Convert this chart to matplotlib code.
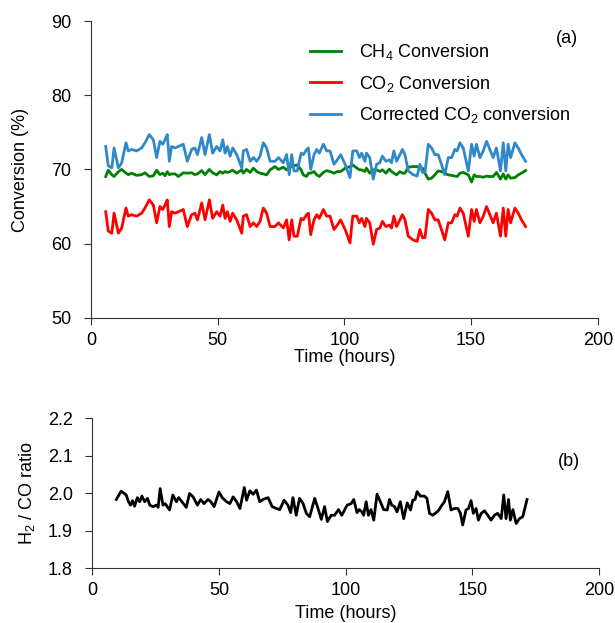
import matplotlib
matplotlib.use('Agg')
import matplotlib.pyplot as plt
from matplotlib.ticker import FormatStrFormatter

plt.rcParams['font.family'] = ['Liberation Sans', 'DejaVu Sans']
plt.rcParams['mathtext.fontset'] = 'custom'
plt.rcParams['mathtext.rm'] = 'Liberation Sans'
plt.rcParams['mathtext.it'] = 'Liberation Sans:italic'

# panel (a): conversions vs time
time_a = [5.8, 6.8, 8.2, 9.1, 10.8, 12.1, 13.8, 14.7, 16.0, 18.0,
          20.0, 21.3, 23.0, 24.6, 25.9, 27.2, 28.3, 29.2, 30.1, 30.9,
          31.8, 33.2, 34.5, 36.4, 38.0, 39.7, 41.0, 42.0, 43.7, 45.0,
          46.7, 48.0, 49.6, 50.9, 52.0, 52.9, 53.8, 54.9, 55.9, 57.5,
          59.5, 60.1, 61.4, 62.8, 64.1, 65.4, 66.7, 68.0, 69.3, 70.7,
          72.6, 74.0, 75.9, 77.2, 78.2, 79.2, 80.1, 81.4, 82.9, 83.8,
          85.1, 85.8, 86.7, 88.0, 89.1, 90.1, 91.7, 93.0, 94.3, 95.9,
          97.2, 98.5, 100.3, 102.2, 103.3, 104.9, 105.9, 106.8, 108.1, 108.7,
          110.0, 111.4, 112.7, 114.0, 115.0, 116.4, 117.7, 118.6, 119.5, 120.6,
          121.9, 122.9, 123.9, 125.2, 127.1, 128.7, 129.8, 130.8, 131.8, 133.1,
          134.4, 135.7, 137.0, 138.3, 139.6, 141.0, 142.3, 143.6, 144.5, 145.6,
          146.9, 148.9, 150.2, 151.2, 152.1, 153.5, 154.8, 156.1, 157.4, 158.7,
          160.0, 161.6, 162.7, 163.7, 164.6, 165.6, 167.3, 168.6, 169.9, 171.5]

ch4_conv = [69.05, 69.9, 69.3, 69.05, 69.7, 70.0, 69.5, 69.3, 69.5, 69.2,
            69.3, 69.55, 69.05, 69.15, 69.9, 69.3, 69.5, 69.15, 69.7, 69.3,
            69.4, 69.4, 69.05, 69.55, 69.5, 69.55, 69.3, 69.4, 69.85, 69.3,
            70.0, 69.55, 69.27, 69.72, 69.5, 69.72, 69.6, 69.72, 69.9, 69.5,
            69.95, 69.5, 70.0, 69.6, 70.17, 69.72, 69.5, 69.4, 69.27, 69.95,
            70.39, 70.0, 70.3, 69.95, 70.2, 70.4, 70.5, 70.62, 69.95, 69.27,
            69.05, 69.5, 69.5, 69.72, 69.27, 69.05, 69.6, 69.85, 69.72, 69.5,
            69.72, 69.72, 70.17, 70.39, 70.6, 70.2, 69.95, 69.95, 69.72, 70.17,
            69.5, 69.95, 69.95, 69.72, 69.95, 69.5, 70.05, 69.72, 69.5, 69.27,
            69.72, 69.5, 69.5, 70.3, 70.39, 70.39, 70.2, 70.17, 69.5, 68.7,
            68.83, 69.27, 69.8, 69.72, 69.5, 69.27, 69.2, 69.1, 69.05, 69.5,
            69.6, 69.27, 68.3, 69.27, 69.05, 69.05, 68.95, 69.1, 69.05, 69.05,
            69.6, 68.7, 69.4, 68.7, 69.27, 68.83, 68.9, 69.27, 69.5, 69.85]

co2_conv = [64.3, 61.7, 61.4, 64.1, 61.4, 62.1, 64.8, 63.7, 63.9, 63.7,
            64.1, 64.8, 65.9, 65.2, 62.8, 65.0, 64.6, 65.2, 65.9, 62.3,
            64.3, 64.1, 64.3, 64.6, 62.3, 63.9, 64.1, 63.2, 65.5, 63.2,
            65.9, 63.4, 64.3, 63.7, 65.2, 63.4, 64.3, 63.0, 64.1, 63.2,
            61.4, 63.7, 63.9, 62.3, 62.8, 62.3, 63.0, 64.8, 64.1, 62.3,
            62.3, 62.8, 62.1, 63.2, 60.5, 63.2, 61.0, 61.0, 63.4, 63.2,
            63.9, 64.1, 61.2, 63.2, 63.9, 63.4, 64.6, 63.7, 63.7, 61.9,
            62.5, 63.2, 61.9, 60.1, 63.7, 63.7, 62.8, 63.4, 62.3, 63.4,
            62.8, 59.9, 61.9, 62.1, 63.0, 62.3, 62.5, 62.1, 63.7, 62.3,
            63.2, 63.9, 63.2, 61.0, 60.5, 60.3, 61.9, 60.8, 60.8, 64.6,
            64.1, 63.2, 63.2, 61.9, 60.5, 62.8, 62.8, 63.9, 63.7, 64.8,
            64.1, 61.0, 64.6, 63.0, 64.6, 62.8, 63.7, 65.0, 63.9, 62.8,
            64.1, 61.0, 64.8, 61.0, 64.6, 62.8, 64.8, 64.1, 63.2, 62.3]

co2_corrected = [73.1, 70.5, 70.2, 72.9, 70.2, 70.9, 73.6, 72.5, 72.7, 72.5,
                 72.9, 73.6, 74.7, 74.0, 71.6, 73.8, 73.4, 74.0, 74.7, 71.1,
                 73.1, 72.9, 73.1, 73.4, 71.1, 72.7, 72.9, 72.0, 74.3, 72.0,
                 74.7, 72.2, 73.1, 72.5, 74.0, 72.2, 73.1, 71.8, 72.9, 72.0,
                 70.2, 72.5, 72.7, 71.1, 71.6, 71.1, 71.8, 73.6, 72.9, 71.1,
                 71.1, 71.6, 70.9, 72.0, 69.3, 72.0, 69.8, 69.8, 72.2, 72.0,
                 72.7, 72.9, 70.0, 72.0, 72.7, 72.2, 73.4, 72.5, 72.5, 70.7,
                 71.3, 72.0, 70.7, 68.9, 72.5, 72.5, 71.6, 72.2, 71.1, 72.2,
                 71.6, 68.7, 70.7, 70.9, 71.8, 71.1, 71.3, 70.9, 72.5, 71.1,
                 72.0, 72.7, 72.0, 69.8, 69.3, 69.1, 70.7, 69.6, 69.6, 73.4,
                 72.9, 72.0, 72.0, 70.7, 69.3, 71.6, 71.6, 72.7, 72.5, 73.6,
                 72.9, 69.8, 73.4, 71.8, 73.4, 71.6, 72.5, 73.8, 72.7, 71.6,
                 72.9, 69.8, 73.6, 69.8, 73.4, 71.6, 73.6, 72.9, 72.0, 71.1]

# panel (b): H2/CO ratio vs time
time_b = [9.5, 11.4, 13.4, 14.3, 15.1, 15.9, 16.7, 17.8, 18.7, 19.6,
          20.7, 21.8, 22.7, 24.0, 25.3, 26.0, 26.8, 27.9, 28.8, 29.6,
          30.5, 31.8, 33.2, 34.1, 35.4, 37.1, 38.4, 39.8, 41.5, 42.8,
          44.1, 45.7, 46.8, 48.1, 50.0, 51.3, 53.0, 54.3, 55.6, 57.0,
          58.3, 60.0, 60.9, 62.2, 63.5, 64.8, 66.1, 67.4, 69.4, 71.0,
          72.7, 74.0, 75.7, 77.2, 78.3, 79.2, 80.5, 81.8, 83.2, 84.5,
          85.8, 87.8, 89.1, 90.4, 91.7, 92.8, 94.3, 95.6, 97.2, 98.5,
          100.6, 102.2, 103.2, 104.5, 105.4, 106.4, 107.1, 108.1, 109.0, 110.0,
          111.1, 112.4, 113.7, 115.0, 116.4, 117.3, 118.2, 119.3, 120.3, 121.6,
          122.9, 124.3, 125.6, 126.5, 127.4, 128.2, 129.5, 131.1, 132.1, 133.1,
          134.4, 135.7, 136.8, 137.7, 139.0, 140.3, 141.6, 142.9, 144.3, 145.3,
          146.2, 147.5, 148.5, 149.5, 150.4, 151.5, 152.4, 153.5, 154.8, 156.1,
          157.4, 158.7, 160.0, 161.4, 162.4, 163.3, 164.3, 165.0, 166.0, 167.3,
          168.6, 169.9, 171.6]

h2_co_ratio = [1.983, 2.005, 1.995, 1.977, 1.968, 1.980, 1.965, 1.988, 1.977, 1.992,
               1.977, 1.986, 1.968, 1.964, 1.968, 1.962, 2.012, 1.968, 1.972, 1.964,
               1.955, 1.995, 1.977, 1.988, 1.977, 1.962, 1.999, 1.990, 1.968, 1.983,
               1.972, 1.983, 1.977, 1.964, 2.003, 1.988, 1.977, 1.972, 1.990, 1.977,
               1.959, 2.015, 1.981, 2.006, 1.997, 2.008, 1.977, 1.983, 1.988, 1.964,
               1.959, 1.956, 1.981, 1.968, 1.948, 1.988, 1.941, 1.986, 1.972, 1.946,
               1.937, 1.986, 1.959, 1.930, 1.964, 1.924, 1.941, 1.941, 1.956, 1.941,
               1.968, 1.972, 1.983, 1.948, 1.956, 1.950, 1.941, 1.977, 1.941, 1.956,
               1.928, 1.997, 1.977, 1.956, 1.955, 1.983, 1.968, 1.964, 1.950, 1.977,
               1.932, 1.974, 1.955, 1.981, 1.983, 2.004, 1.992, 1.992, 1.986, 1.946,
               1.941, 1.948, 1.955, 1.965, 1.977, 2.004, 1.955, 1.959, 1.959, 1.946,
               1.915, 1.955, 1.959, 1.980, 1.946, 1.959, 1.928, 1.946, 1.953, 1.941,
               1.928, 1.941, 1.946, 1.932, 1.995, 1.932, 1.983, 1.928, 1.956, 1.919,
               1.932, 1.937, 1.983]

fig = plt.figure(figsize=(6.15, 6.23), dpi=100)
ax1 = fig.add_axes([0.148, 0.490, 0.824, 0.476])
ax2 = fig.add_axes([0.150, 0.088, 0.824, 0.241])

ax1.plot(time_a, ch4_conv, color='#008000', lw=2.0, label='CH$_4$ Conversion')
ax1.plot(time_a, co2_conv, color='#ff0000', lw=2.0, label='CO$_2$ Conversion')
ax1.plot(time_a, co2_corrected, color='#2f88c8', lw=2.0, label='Corrected CO$_2$ conversion')
ax1.set_xlim(0, 200)
ax1.set_ylim(50, 90)
ax1.set_xticks([0, 50, 100, 150, 200])
ax1.set_yticks([50, 60, 70, 80, 90])
ax1.yaxis.set_major_formatter(FormatStrFormatter('%.0f'))
ax1.set_ylabel('Conversion (%)', fontsize=13, labelpad=16)
ax1.set_xlabel('Time (hours)', fontsize=13, labelpad=0)
ax1.legend(loc='upper left', bbox_to_anchor=(0.40, 0.985), frameon=False,
           fontsize=13, handlelength=1.7, labelspacing=0.65, handletextpad=1.0)
ax1.text(0.94, 0.925, '(a)', transform=ax1.transAxes, fontsize=13, ha='center')

ax2.plot(time_b, h2_co_ratio, color='black', lw=2.0)
ax2.set_xlim(0, 200)
ax2.set_ylim(1.8, 2.2)
ax2.set_xticks([0, 50, 100, 150, 200])
ax2.set_yticks([1.8, 1.9, 2.0, 2.1, 2.2])
ax2.yaxis.set_major_formatter(FormatStrFormatter('%.1f'))
ax2.set_ylabel('H$_2$ / CO ratio', fontsize=13, labelpad=8)
ax2.set_xlabel('Time (hours)', fontsize=13, labelpad=4)
ax2.text(0.94, 0.68, '(b)', transform=ax2.transAxes, fontsize=13, ha='center')

for ax in (ax1, ax2):
    ax.spines['top'].set_visible(False)
    ax.spines['right'].set_visible(False)
    ax.spines['left'].set_color('#333333')
    ax.spines['bottom'].set_color('#333333')
    ax.tick_params(direction='out', length=5, width=0.8, pad=5, labelsize=13,
                   colors='#333333', labelcolor='black')
    ax.tick_params(axis='y', pad=9)

fig.savefig('out.png', dpi=100)
